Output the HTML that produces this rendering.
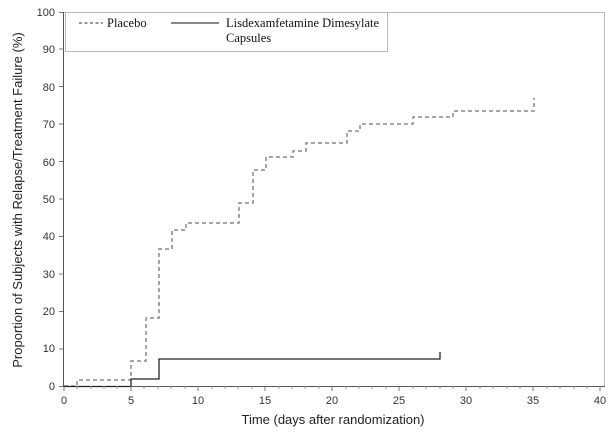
<!DOCTYPE html>
<html><head><style>body{margin:0;background:#fff}</style></head><body>
<svg width="614" height="431" xmlns="http://www.w3.org/2000/svg" font-family="Liberation Sans, sans-serif">
<rect x="63.5" y="12.5" width="541" height="374" fill="none" stroke="#bbb"/>
<g stroke="#555">
<line x1="63.5" y1="12" x2="63.5" y2="387"/>
<line x1="63" y1="386.5" x2="605" y2="386.5"/>
</g>
<g stroke="#777" id="xt"></g>
<g font-size="11" fill="#333" text-anchor="middle">
<text x="64" y="404">0</text><text x="131" y="404">5</text><text x="198" y="404">10</text><text x="265" y="404">15</text><text x="332" y="404">20</text><text x="399" y="404">25</text><text x="466" y="404">30</text><text x="533" y="404">35</text><text x="600" y="404">40</text>
</g>
<g font-size="11" fill="#333" text-anchor="end">
<text x="55" y="390">0</text><text x="55" y="352">10</text><text x="55" y="315">20</text><text x="55" y="278">30</text><text x="55" y="240">40</text><text x="55" y="203">50</text><text x="55" y="166">60</text><text x="55" y="128">70</text><text x="55" y="91">80</text><text x="55" y="53">90</text><text x="55" y="16">100</text>
</g>
<g stroke="#777">
<line x1="59" y1="386.5" x2="63" y2="386.5"/><line x1="59" y1="349" x2="63" y2="349"/><line x1="59" y1="311.5" x2="63" y2="311.5"/><line x1="59" y1="274" x2="63" y2="274"/><line x1="59" y1="236.5" x2="63" y2="236.5"/><line x1="59" y1="199" x2="63" y2="199"/><line x1="59" y1="161.5" x2="63" y2="161.5"/><line x1="59" y1="124" x2="63" y2="124"/><line x1="59" y1="86.5" x2="63" y2="86.5"/><line x1="59" y1="49" x2="63" y2="49"/><line x1="59" y1="12.5" x2="63" y2="12.5"/>
</g>
<text x="333" y="424" font-size="13" fill="#222" text-anchor="middle">Time (days after randomization)</text>
<text transform="translate(22,200) rotate(-90)" font-size="13" fill="#222" text-anchor="middle">Proportion of Subjects with Relapse/Treatment Failure (%)</text>
<path fill="none" stroke="#888" stroke-width="1.5" stroke-dasharray="4,3" d="M64,386 H77 V380 H131 V361 H146 V318 H159 V249 H172 V230 H186 V223 H239 V203 H253 V170 H266 V157 H293 V151 H306 V143 H347 V131 H360 V124 H413 V117 H453 V111 H534 V98"/>
<path fill="none" stroke="#222" stroke-width="1.3" d="M64,386.5 H131 V379 H159 V359 H440 V352"/>
<rect x="65.5" y="12.5" width="322" height="39" fill="#fff" stroke="#bbb"/>
<g font-family="Liberation Serif, serif" font-size="12.5" fill="#111">
<line x1="79" y1="23" x2="103" y2="23" stroke="#333" stroke-dasharray="3,2.5"/>
<text x="107" y="27">Placebo</text>
<line x1="171" y1="23" x2="219" y2="23" stroke="#111"/>
<text x="226" y="27">Lisdexamfetamine Dimesylate</text>
<text x="226" y="42">Capsules</text>
</g>
<g stroke="#999">
<path d="M77,386V389M91,386V389M104,386V389M117,386V389M144,386V389M158,386V389M171,386V389M185,386V389M212,386V389M225,386V389M238,386V389M252,386V389M279,386V389M292,386V389M305,386V389M319,386V389M346,386V389M359,386V389M372,386V389M386,386V389M413,386V389M426,386V389M440,386V389M453,386V389M480,386V389M493,386V389M507,386V389M520,386V389M547,386V389M560,386V389M574,386V389M587,386V389"/>
<path stroke="#777" d="M64,386V391M131,386V391M198,386V391M265,386V391M332,386V391M399,386V391M466,386V391M533,386V391M600,386V391"/>
</g>
</svg>
</body></html>
